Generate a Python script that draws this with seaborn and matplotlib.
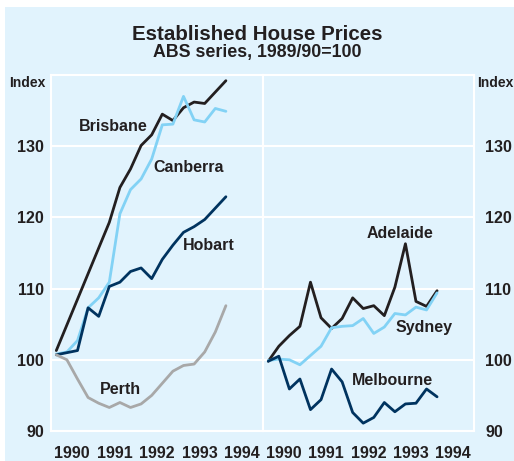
import numpy as np
import pandas as pd
import seaborn as sns
import matplotlib.pyplot as plt
from matplotlib.patches import Rectangle

# quarterly index, 1989/90 = 100
quarters = [1990.125 + 0.25 * i for i in range(17)]

brisbane = [101.3, 104.9, 108.5, 112.1, 115.7, 119.3, 124.2, 126.8, 130.1,
            131.6, 134.5, 133.6, 135.4, 136.2, 136.0, 137.6, 139.2]
canberra = [100.8, 101.1, 102.7, 107.3, 108.7, 110.9, 120.5, 123.9, 125.4,
            128.2, 133.0, 133.1, 137.0, 133.7, 133.4, 135.3, 134.9]
hobart = [100.7, 101.0, 101.3, 107.3, 106.1, 110.3, 110.9, 112.4, 112.9,
          111.4, 114.1, 116.1, 117.9, 118.7, 119.7, 121.3, 122.9]
perth = [100.7, 100.0, 97.3, 94.7, 93.9, 93.3, 94.0, 93.3, 93.8,
         95.0, 96.7, 98.4, 99.2, 99.4, 101.1, 103.9, 107.6]

adelaide = [99.8, 101.9, 103.4, 104.7, 110.9, 105.9, 104.4, 105.8, 108.7,
            107.2, 107.6, 106.2, 110.2, 116.3, 108.2, 107.5, 109.7]
sydney = [99.9, 100.1, 100.0, 99.3, 100.6, 101.9, 104.5, 104.7, 104.8,
          105.8, 103.7, 104.6, 106.5, 106.3, 107.4, 107.0, 109.4]
melbourne = [99.8, 100.5, 95.9, 97.3, 93.0, 94.4, 98.7, 96.9, 92.6,
             91.1, 91.9, 94.0, 92.7, 93.8, 93.9, 95.9, 94.8]

years = ["1990", "1991", "1992", "1993", "1994"]
yticks = [90, 100, 110, 120, 130]

BLACK = "#231f20"
LIGHT = "#82d2f5"
NAVY = "#00335f"
GREY = "#a8a8a8"
BG = "#e1f3fd"

sns.set_style("white")
plt.rcParams["font.family"] = ["Liberation Sans", "DejaVu Sans"]
plt.rcParams["font.weight"] = "bold"

fig = plt.figure(figsize=(5.14, 4.61), dpi=100)
fig.patches.append(Rectangle((5 / 514, 0), 1, 1 - 7 / 461, transform=fig.transFigure,
                             facecolor=BG, edgecolor="none", zorder=-5))

ax1 = fig.add_axes([51 / 514, 0.0651, 212 / 514, 0.7722])
ax2 = fig.add_axes([263 / 514, 0.0651, 211 / 514, 0.7722])

left = {"Brisbane": (brisbane, BLACK), "Canberra": (canberra, LIGHT),
        "Hobart": (hobart, NAVY), "Perth": (perth, GREY)}
right = {"Adelaide": (adelaide, BLACK), "Sydney": (sydney, LIGHT),
         "Melbourne": (melbourne, NAVY)}

for ax, series in [(ax1, left), (ax2, right)]:
    ax.set_facecolor(BG)
    for name, (vals, col) in series.items():
        df = pd.DataFrame({"date": quarters, "index": vals})
        sns.lineplot(data=df, x="date", y="index", color=col, lw=2, ax=ax)
    ax.set_xlim(1990, 1995)
    ax.set_ylim(90, 140)
    ax.set_xlabel("")
    ax.set_ylabel("")
    ax.set_yticks(yticks)
    ax.grid(axis="y", color="white", lw=1.5)
    ax.set_axisbelow(True)
    ax.set_xticks([1990.5, 1991.5, 1992.5, 1993.5, 1994.5])
    ax.set_xticklabels(years, fontsize=11.5, fontweight="bold", color=BLACK)
    ax.set_xticks([1991, 1992, 1993, 1994], minor=True)
    ax.tick_params(axis="x", which="major", length=0, pad=11)
    ax.tick_params(axis="x", which="minor", direction="in", length=8, width=1.5, color="white")
    ax.tick_params(axis="y", length=0, labelsize=11.5, colors=BLACK)
    for s in ax.spines.values():
        s.set_color("white")
        s.set_linewidth(1.5)
    for lbl in ax.get_yticklabels():
        lbl.set_fontweight("bold")

ax1.tick_params(axis="y", pad=5)
ax2.tick_params(axis="y", left=False, labelleft=False, right=False, labelright=True, pad=8)
for lbl in ax2.get_yticklabels():
    lbl.set_fontweight("bold")

lab = dict(fontsize=11.5, fontweight="bold", color=BLACK, ha="center", va="center")
ax1.text(1991.46, 132.8, "Brisbane", **lab)
ax1.text(1993.25, 127.0, "Canberra", **lab)
ax1.text(1993.73, 116.1, "Hobart", **lab)
ax1.text(1991.63, 95.8, "Perth", **lab)
ax2.text(1993.25, 117.7, "Adelaide", **lab)
ax2.text(1993.82, 104.5, "Sydney", **lab)
ax2.text(1993.06, 97.1, "Melbourne", **lab)

fig.text(46 / 514, 1 - 83 / 461, "Index", ha="right", va="center", fontsize=10,
         fontweight="bold", color=BLACK)
fig.text(477 / 514, 1 - 83 / 461, "Index", ha="left", va="center", fontsize=10,
         fontweight="bold", color=BLACK)
fig.text(0.5, 1 - 34 / 461, "Established House Prices", ha="center", va="center",
         fontsize=14.8, fontweight="bold", color=BLACK)
fig.text(0.5, 1 - 52 / 461, "ABS series, 1989/90=100", ha="center", va="center",
         fontsize=12.8, fontweight="bold", color=BLACK)

fig.savefig("out.png", dpi=100)
